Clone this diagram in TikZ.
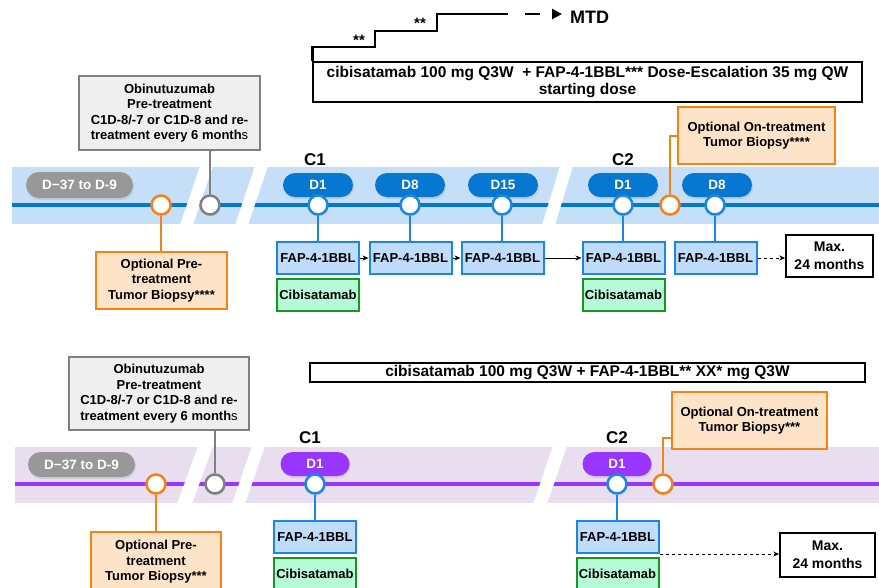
\documentclass[tikz,border=0pt]{standalone}
\usepackage{fontspec}
\setmainfont{Liberation Sans}
\usetikzlibrary{arrows.meta,shadows,calc}
\definecolor{bandb}{RGB}{197,223,248}
\definecolor{lineb}{RGB}{0,120,212}
\definecolor{pillb}{RGB}{6,120,210}
\definecolor{cblue}{RGB}{28,134,228}
\definecolor{fapf}{RGB}{191,221,250}
\definecolor{fapb}{RGB}{28,134,228}
\definecolor{cibf}{RGB}{182,250,216}
\definecolor{cibb}{RGB}{22,150,34}
\definecolor{orb}{RGB}{247,130,20}
\definecolor{orf}{RGB}{253,228,200}
\definecolor{grb}{RGB}{128,128,128}
\definecolor{grf}{RGB}{239,239,239}
\definecolor{grp}{RGB}{152,152,152}
\definecolor{bandp}{RGB}{233,222,240}
\definecolor{linep}{RGB}{152,54,255}
\newcommand\fsz[2]{\fontsize{#1}{#2}\selectfont}
\begin{document}
\begin{tikzpicture}[x=1pt,y=-1pt,
  pill/.style={rounded corners=12pt, minimum width=70pt, minimum height=24pt, inner sep=0pt,
    text=white, font=\bfseries\fsz{13.5}{16}, drop shadow={opacity=0.18, shadow xshift=1pt, shadow yshift=-2pt}},
  dot/.style={circle, draw=cblue, fill=white, line width=2.5pt, minimum size=19pt, inner sep=0pt,
    drop shadow={opacity=0.15, shadow xshift=1pt, shadow yshift=-2pt}},
  odot/.style={dot, draw=orb},
  gdot/.style={dot, draw=grb},
  fap/.style={draw=fapb, fill=fapf, line width=2pt, minimum width=82pt, minimum height=32pt,
    inner sep=0pt, font=\bfseries\fsz{13}{15}},
  cib/.style={fap, draw=cibb, fill=cibf},
  obox/.style={draw=orb, fill=orf, line width=2pt, align=center, inner sep=0pt, font=\bfseries\fsz{13}{15.5}},
  gbox/.style={draw=grb, fill=grf, line width=2pt, align=center, inner sep=0pt, font=\bfseries\fsz{13}{15.5}},
  mbox/.style={draw=black, fill=white, line width=1.5pt, align=center, inner sep=0pt, font=\bfseries\fsz{14}{18}},
  hbox/.style={draw=black, fill=white, line width=1.5pt, align=center, inner sep=0pt, font=\bfseries\fsz{15.5}{17}},
  cyc/.style={font=\bfseries\fsz{17}{20}},
  arr/.style={-{Stealth[length=6pt,width=5pt]}, line width=1pt},
  darr/.style={arr, dashed},
  bcon/.style={draw=cblue, line width=2pt},
  ocon/.style={draw=orb, line width=2pt},
  gcon/.style={draw=grb, line width=2pt},
  gap/.style={fill=white}
]
\useasboundingbox (0,0) rectangle (879,587);
\clip (0,0) rectangle (879,587);

% ================= TOP =================
\fill[bandb] (12,167) rectangle (879,224);
\fill[lineb] (12,203) rectangle (879,207);
\fill[gap] (200,166) -- (213,166) -- (193,225) -- (180,225) -- cycle;
\fill[gap] (255,166) -- (268,166) -- (248,225) -- (235,225) -- cycle;
\fill[gap] (560,166) -- (573,166) -- (555,225) -- (542,225) -- cycle;

% header + steps
\node[hbox, minimum width=549pt, minimum height=40pt] (hdrA) at (587.5,82)
  {cibisatamab 100 mg Q3W\ \ + FAP-4-1BBL*** Dose-Escalation 35 mg QW\\starting dose};
\draw[line width=2.5pt] (hdrA.north west) |- (375,47) |- (437,31) |- (508,14);
\node[font=\bfseries\fsz{18}{20}, anchor=west, inner sep=0pt] (mtd) at (570,17) {MTD};
\coordinate (mtdtip) at (562,14);
\draw[line width=2.5pt, dash pattern=on 15pt off 40pt, -{Triangle[length=10pt,width=10pt]}] (525,14) -- (mtdtip);
\node[font=\bfseries\fsz{15}{17}] (st1) at (359,40) {**};
\node[font=\bfseries\fsz{15}{17}] (st2) at (420,23) {**};

% pre-treatment
\node[gbox, minimum width=181pt, minimum height=74pt] (obiA) at (169.5,113)
  {Obinutuzumab\\Pre-treatment\\C1D-8/-7 or C1D-8 and re-\\treatment every 6 month\textmd{s}};
\node[pill, fill=grp, minimum width=107pt, minimum height=26pt, rounded corners=13pt] (preA) at (79.5,185) {D−37 to D-9};
\node[obox, minimum width=131pt, minimum height=57pt] (pboxA) at (161.5,280.5)
  {Optional Pre-\\treatment\\Tumor Biopsy****};
\node[odot] (opA) at (161,205) {};
\node[gdot] (gpA) at (210,205) {};
\draw[ocon] (opA.south) -- (opA.south |- pboxA.north);
\draw[gcon] (gpA.north) -- (gpA.north |- obiA.south);

% C1
\node[cyc] (c1A) at (315,160) {C1};
\node[pill, fill=pillb] (p1) at (318,185) {D1};
\node[pill, fill=pillb] (p8) at (410,185) {D8};
\node[pill, fill=pillb] (p15) at (503,185) {D15};
\node[dot] (d1) at (318,205) {};
\node[dot] (d8) at (410,205) {};
\node[dot] (d15) at (502,205) {};
\node[fap] (f1) at (318,258) {FAP-4-1BBL};
\node[fap] (f2) at (410.5,258) {FAP-4-1BBL};
\node[fap] (f3) at (502.5,258) {FAP-4-1BBL};
\node[cib] (cb1) at (318,295) {Cibisatamab};
\draw[bcon] (d1.south) -- (f1.north);
\draw[bcon] (d8.south) -- (d8.south |- f2.north);
\draw[bcon] (d15.south) -- (d15.south |- f3.north);

% C2
\node[cyc] (c2A) at (623,160) {C2};
\node[pill, fill=pillb] (q1) at (623,185) {D1};
\node[pill, fill=pillb] (q8) at (717,185) {D8};
\node[obox, minimum width=157pt, minimum height=57pt] (onboxA) at (756.5,135.5)
  {Optional On-treatment\\Tumor Biopsy****};
\node[dot] (e1) at (623,205) {};
\node[odot] (onA) at (670,205) {};
\node[dot] (e8) at (715,205) {};
\draw[ocon] (onA.north) |- (onboxA.west);
\node[fap] (f4) at (623.5,258) {FAP-4-1BBL};
\node[fap] (f5) at (715.5,258) {FAP-4-1BBL};
\node[cib] (cb2) at (623.5,295) {Cibisatamab};
\draw[bcon] (e1.south) -- (e1.south |- f4.north);
\draw[bcon] (e8.south) -- (e8.south |- f5.north);
\node[mbox, minimum width=87pt, minimum height=42pt] (maxA) at (829.5,256) {Max.\\24 months};

\draw[arr] (f1.east) -- (f2.west);
\draw[arr] (f2.east) -- (f3.west);
\draw[arr] (f3.east) -- (f4.west);
\draw[darr] (f5.east) -- (f5.east -| maxA.west);

% ================= BOTTOM =================
\fill[bandp] (15,447) rectangle (879,503);
\fill[linep] (15,482) rectangle (879,486);
\fill[gap] (198,446) -- (213,446) -- (192,504) -- (177,504) -- cycle;
\fill[gap] (252,446) -- (265,446) -- (245,504) -- (232,504) -- cycle;
\fill[gap] (553,446) -- (567,446) -- (547,504) -- (533,504) -- cycle;

\node[hbox, minimum width=555pt, minimum height=19pt] (hdrB) at (587.5,372.5)
  {cibisatamab 100 mg Q3W + FAP-4-1BBL** XX* mg Q3W};

\node[gbox, minimum width=180pt, minimum height=73pt] (obiB) at (159,393.5)
  {Obinutuzumab\\Pre-treatment\\C1D-8/-7 or C1D-8 and re-\\treatment every 6 month\textmd{s}};
\node[pill, fill=grp, minimum width=107pt, minimum height=25pt, rounded corners=12.5pt] (preB) at (81.5,464.5) {D−37 to D-9};
\node[obox, minimum width=130pt, minimum height=60pt] (pboxB) at (156,562)
  {Optional Pre-\\treatment\\Tumor Biopsy***};
\node[odot] (opB) at (156,484) {};
\node[gdot] (gpB) at (215,484) {};
\draw[ocon] (opB.south) -- (opB.south |- pboxB.north);
\draw[gcon] (gpB.north) -- (gpB.north |- obiB.south);

\node[cyc] (c1B) at (310,438) {C1};
\node[pill, fill=linep, minimum width=69pt] (r1) at (315,464) {D1};
\node[dot] (g1) at (315,484) {};
\node[fap] (h1) at (315,537) {FAP-4-1BBL};
\node[cib] (cb3) at (315,574) {Cibisatamab};
\draw[bcon] (g1.south) -- (g1.south |- h1.north);

\node[cyc] (c2B) at (617,438) {C2};
\node[pill, fill=linep, minimum width=69pt] (r2) at (617,464) {D1};
\node[dot] (g2) at (617,484) {};
\node[odot] (onB) at (663,484) {};
\node[obox, minimum width=155pt, minimum height=57pt] (onboxB) at (749.5,420.5)
  {Optional On-treatment\\Tumor Biopsy***};
\draw[ocon] (onB.north) |- ($(onboxB.south west)+(0,-12)$);
\node[fap] (h2) at (617.5,537) {FAP-4-1BBL};
\node[cib] (cb4) at (617.5,574) {Cibisatamab};
\draw[bcon] (g2.south) -- (g2.south |- h2.north);
\node[mbox, minimum width=95pt, minimum height=44pt] (maxB) at (827.5,555) {Max.\\24 months};
\draw[darr] (h2.south east) -- (h2.south east -| maxB.west);
\end{tikzpicture}
\end{document}
